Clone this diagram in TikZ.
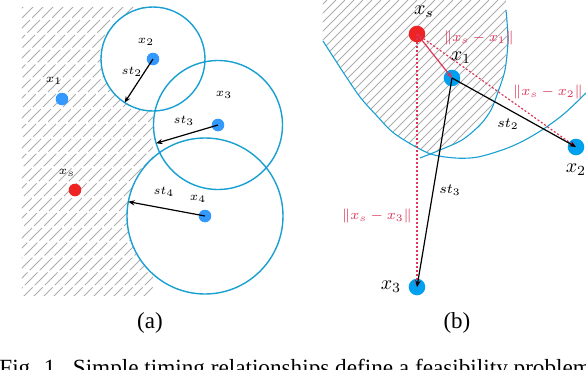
\documentclass[tikz,border=0pt]{standalone}
\usepackage{fontspec}
\setmainfont{Liberation Serif}
\usepackage{amsmath}
\usetikzlibrary{arrows.meta}

\definecolor{dotblue}{RGB}{51,153,255}
\definecolor{dotcyan}{RGB}{0,160,240}
\definecolor{dotred}{RGB}{238,36,36}
\definecolor{ringblue}{RGB}{24,160,210}
\definecolor{distred}{RGB}{222,52,88}

\tikzset{
  hatch/.style={draw=gray!65, line width=0.45pt},
  ring/.style={draw=ringblue, line width=0.7pt},
  smalldot/.style={circle, inner sep=0pt, minimum size=6.3pt},
  bigdot/.style={circle, inner sep=0pt, minimum size=8.3pt},
  starrow/.style={-{Stealth[length=3.2pt,width=2.6pt]}, line width=0.6pt},
  distarrow/.style={-{Stealth[length=3.2pt,width=2.6pt]}, draw=distred, line width=0.6pt},
  tinylbl/.style={font=\fontsize{6}{7}\selectfont, inner sep=0pt},
  biglbl/.style={font=\fontsize{10}{12}\selectfont, inner sep=0pt},
  distlbl/.style={font=\fontsize{7}{8}\selectfont, text=distred, inner sep=0pt}
}

\begin{document}
\begin{tikzpicture}[x=0.5pt,y=-0.5pt]
\useasboundingbox (0,0) rectangle (586,370);

%% (a)
\begin{scope}
  \clip (22,7) rectangle (153,295);
  \foreach \k in {-290,-280,...,160}
    \draw[hatch, dash pattern=on 9pt off 1.5pt] (\k,300) -- ++(300,-300);
\end{scope}
\fill[white] (153,59) circle[radius=52] (218,125) circle[radius=64.5] (205,216) circle[radius=78];
\draw[ring] (153,59) circle[radius=52];
\draw[ring] (218,125) circle[radius=64.5];
\draw[ring] (205,216) circle[radius=78];

\node[smalldot, fill=dotblue] (a1) at (62,99) {};
\node[smalldot, fill=dotred] (as) at (75,190) {};
\node[smalldot, fill=dotblue] (a2) at (153,59) {};
\node[smalldot, fill=dotblue] (a3) at (218,125) {};
\node[smalldot, fill=dotblue] (a4) at (205,216) {};

\coordinate (e2) at (124.6,102.6);
\coordinate (e3) at (156.1,143.3);
\coordinate (e4) at (128.3,201.7);
\draw[starrow] (a2.center) -- (e2);
\draw[starrow] (a3.center) -- (e3);
\draw[starrow] (a4.center) -- (e4);

\node[tinylbl] (la1) at (54,81) {$x_1$};
\node[tinylbl] (las) at (67,173) {$x_s$};
\node[tinylbl] (la2) at (146,42) {$x_2$};
\node[tinylbl] (la3) at (224,95) {$x_3$};
\node[tinylbl] (la4) at (198,199) {$x_4$};
\node[tinylbl] (lt2) at (132,72) {$st_2$};
\node[tinylbl] (lt3) at (184,121) {$st_3$};
\node[tinylbl] (lt4) at (164,192) {$st_4$};

%% (b)
\begin{scope}
  \clip (323,0) -- (323,41) -- (333,57) -- (343,72) -- (360,97) -- (377,116) -- (395,134) -- (412,145) -- (429,153)
        -- (440,150) -- (462,140) -- (480,125) -- (491,110) -- (498,92) -- (505,70) -- (508,40) -- (506,10) -- (506,0) -- cycle;
  \foreach \k in {0,9,...,470}
    \draw[hatch] (\k,300) -- ++(300,-300);
\end{scope}
\draw[ring, line width=0.55pt] plot[smooth] coordinates {(323,41) (343,72) (360,97) (377,116) (395,134) (428,153) (455,158) (478,157) (505,149) (525,140) (545,128) (565,113) (586,93)};
\draw[ring, line width=0.55pt] plot[smooth] coordinates {(420,158) (440,150) (462,140) (480,125) (491,110) (498,92) (505,70) (508,40) (506,10)};

\node[bigdot, fill=dotred] (bs) at (417,34) {};
\node[bigdot, fill=dotcyan] (b1) at (452,78) {};
\node[bigdot, fill=dotcyan] (b2) at (576,147) {};
\node[bigdot, fill=dotcyan] (b3) at (417,287) {};

\draw[distarrow] (bs.center) -- (b1.center);
\draw[distarrow, dash pattern=on 1pt off 1pt] (bs.center) -- (b2.center);
\draw[distarrow, dash pattern=on 1pt off 1pt] (bs.center) -- (b3.center);
\draw[starrow] (b1.center) -- (b2.center);
\draw[starrow] (b1.center) -- (b3.center);

\node[biglbl] (lbs) at (424,12) {$x_s$};
\node[biglbl] (lb1) at (461,58) {$x_1$};
\node[biglbl] (lb2) at (576,170) {$x_2$};
\node[biglbl] (lb3) at (391,287) {$x_3$};
\node[distlbl] (ld1) at (479,38) {$\|x_s-x_1\|$};
\node[distlbl] (ld2) at (548,92) {$\|x_s-x_2\|$};
\node[distlbl] (ld3) at (377,216) {$\|x_s-x_3\|$};
\node[font=\fontsize{7}{8}\selectfont, inner sep=0pt] (lu2) at (508,124) {$st_2$};
\node[font=\fontsize{7}{8}\selectfont, inner sep=0pt] (lu3) at (450,190) {$st_3$};

%% sub-captions and caption
\node[font=\fontsize{11.5}{13}\selectfont] (capa) at (150,323) {(a)};
\node[font=\fontsize{11.5}{13}\selectfont] (capb) at (457,323) {(b)};
\node[font=\fontsize{11.6}{13}\selectfont, anchor=base west, inner sep=0pt] (cap) at (-1,375)
  {Fig. 1.\enskip Simple timing relationships define a feasibility problem};
\end{tikzpicture}
\end{document}
